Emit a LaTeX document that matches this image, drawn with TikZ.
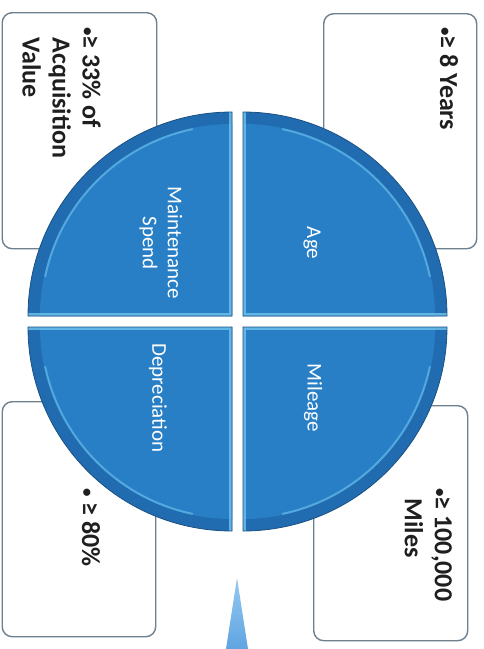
\documentclass[tikz,border=0pt]{standalone}
\usepackage{fontspec}
\setmainfont{Carlito}
\definecolor{boxline}{RGB}{110,128,142}
\definecolor{qdark}{RGB}{33,108,176}
\definecolor{qmain}{RGB}{40,127,198}
\definecolor{qlight}{RGB}{112,196,238}
\definecolor{qedge}{RGB}{26,80,130}
\definecolor{tritop}{RGB}{150,200,240}
\definecolor{tribot}{RGB}{95,165,225}
% small bullet as used in the criterion texts
\newcommand\smbul{{\fontsize{17}{17}\selectfont•}}
\begin{document}
\begin{tikzpicture}[x=1pt,y=1pt,
  box/.style={draw=boxline, line width=1.4pt, rounded corners=10pt, fill=white,
    inner sep=0pt, anchor=north west},
  boxtext/.style={text=black!88, font=\fontsize{26}{30}\selectfont\bfseries,
    rotate=-90, inner sep=0pt, align=left},
  quadlabel/.style={text=white, font=\fontsize{21}{25}\selectfont,
    rotate=-90, inner sep=0pt, align=center}]
\useasboundingbox (0,0) rectangle (483,-649);
\fill[white] (0,0) rectangle (483,-649);

% criterion boxes (behind the disc)
\node[box, minimum width=154.5, minimum height=236] (accbox) at (1.5,-12) {};
\node[box, minimum width=153,   minimum height=235] (agebox) at (323,-13) {};
\node[box, minimum width=153.5, minimum height=235] (depbox) at (1.5,-401) {};
\node[box, minimum width=154,   minimum height=235] (milbox) at (313,-405) {};

% four bevelled quarter discs: corner x / corner y / start angle
\foreach \cx/\cy/\a in {232/316/90, 243/316/0, 232/327/180, 243/327/270}{
  \fill[qdark] (\cx,-\cy) -- ++(\a:204) arc[start angle=\a, end angle=\a+90, radius=204] -- cycle;
  \fill[qmain] (\cx,-\cy) -- ++(\a:192) arc[start angle=\a, end angle=\a+90, radius=192] -- cycle;
  \begin{scope}
    \clip (\cx,-\cy) -- ++(\a:204) arc[start angle=\a, end angle=\a+90, radius=204] -- cycle;
    \draw[qlight, line width=6pt, opacity=0.8] (\cx,-\cy) ++(\a:204) -- (\cx,-\cy) -- ++(\a+90:204);
  \end{scope}
  \draw[qlight, line width=2pt, opacity=0.6, line cap=round]
    (\cx,-\cy) ++(\a+12:191) arc[start angle=\a+12, end angle=\a+78, radius=191];
  \draw[qedge, line width=0.8pt] (\cx,-\cy) -- ++(\a:204) arc[start angle=\a, end angle=\a+90, radius=204] -- cycle;
}

% quarter labels
\node[quadlabel] (agelbl) at (312,-243) {Age};
\node[quadlabel] (mntlbl) at (161,-243) {Maintenance\\Spend};
\node[quadlabel] (deplbl) at (158,-398) {Depreciation};
\node[quadlabel] (millbl) at (313,-398) {Mileage};

% criterion texts
\node[boxtext, anchor=base west] (agetxt) at (440,-27) {\smbul≥ 8 Years};
\node[boxtext, anchor=north west] (acctxt) at (101,-27)
  {\smbul≥ 33\% of\\\hspace*{0.4em}Acquisition\\\hspace*{0.4em}Value};
\node[boxtext, anchor=base west] (deptxt) at (82,-488) {\smbul{} ≥ 80\%};
\node[boxtext, anchor=north west] (miltxt) at (452,-488)
  {\smbul≥ 100,000\\\hspace*{0.4em}Miles};

% pointer below the disc
\shade[top color=tritop, bottom color=tribot] (237,-578) -- (248,-649) -- (226,-649) -- cycle;
\end{tikzpicture}
\end{document}
